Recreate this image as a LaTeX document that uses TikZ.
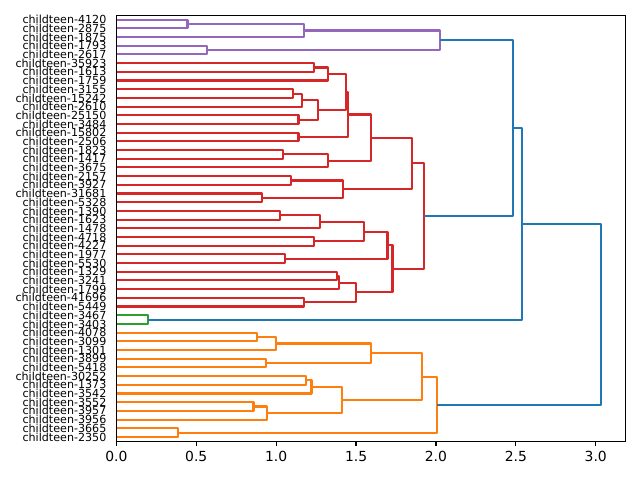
\documentclass[tikz,border=0pt]{standalone}
\usepackage{fontspec}
\setmainfont{DejaVu Sans}
\usepackage{xcolor}
\usepackage{tikz}
\usetikzlibrary{positioning,calc}
\definecolor{treeblue}{RGB}{31,119,180}
\definecolor{treeorange}{RGB}{255,127,14}
\definecolor{treegreen}{RGB}{44,160,44}
\definecolor{treered}{RGB}{214,39,40}
\definecolor{treepurple}{RGB}{148,103,189}

\begin{document}
\begin{tikzpicture}[
    x=0.01in, y=-0.01in,
    link/.style={line width=1.5bp, line join=round},
    spine/.style={draw=black, line width=0.8bp},
    leaflab/.style={anchor=east, inner sep=0pt, xshift=-7bp, font=\fontsize{8bp}{9.6bp}\selectfont},
    ticklab/.style={anchor=north, inner sep=0pt, yshift=-7bp, font=\fontsize{10bp}{12bp}\selectfont}
]
    \useasboundingbox (0,0) rectangle (640,480);

    \begin{scope}[xshift=1.163in, yshift=-0.153in, x=1.597in, y=-0.08688in]
    % Etiquetas de hojas
    \foreach \name [count=\i] in {4120,2875,1875,1793,2617,35923,1613,1759,3155,15242,2610,25150,3484,15802,2506,1823,1417,3675,2157,3927,31681,5328,1390,1623,1478,4718,4227,1977,5530,1329,3241,1799,41696,5449,3467,3403,4078,3099,1301,3899,5418,30252,1373,3542,3552,3957,3956,3665,2350}
        \node[leaflab] (leaf\i) at (0,\i-0.5) {childteen-\name};

    % Grupo morado
    \foreach \h/\ya/\xa/\yb/\xb in {0.445/0.5/0/1.5/0, 1.175/1.0/0.445/2.5/0, 0.568/3.5/0/4.5/0, 2.027/1.75/1.175/4.0/0.568}
        \draw[link, treepurple] (\xa,\ya) -- (\h,\ya) -- (\h,\yb) -- (\xb,\yb);

    % Grupo rojo
    \foreach \h/\ya/\xa/\yb/\xb in {1.238/5.5/0/6.5/0, 1.323/6.0/1.238/7.5/0, 1.106/8.5/0/9.5/0, 1.163/9.0/1.106/10.5/0,
        1.140/11.5/0/12.5/0, 1.263/9.75/1.163/12.0/1.140, 1.438/6.75/1.323/10.875/1.263, 1.140/13.5/0/14.5/0,
        1.447/8.8125/1.438/14.0/1.140, 1.044/15.5/0/16.5/0, 1.326/16.0/1.044/17.5/0, 1.595/11.40625/1.447/16.75/1.326,
        1.094/18.5/0/19.5/0, 0.912/20.5/0/21.5/0, 1.417/19.0/1.094/21.0/0.912, 1.852/14.078/1.595/20.0/1.417,
        1.025/22.5/0/23.5/0, 1.276/23.0/1.025/24.5/0, 1.234/25.5/0/26.5/0, 1.551/23.75/1.276/26.0/1.234,
        1.056/27.5/0/28.5/0, 1.697/24.875/1.551/28.0/1.056, 1.380/29.5/0/30.5/0, 1.392/30.0/1.380/31.5/0,
        1.176/32.5/0/33.5/0, 1.497/30.75/1.392/33.0/1.176, 1.728/26.4375/1.697/31.875/1.497, 1.927/17.039/1.852/29.156/1.728}
        \draw[link, treered] (\xa,\ya) -- (\h,\ya) -- (\h,\yb) -- (\xb,\yb);

    % Grupo verde
    \draw[link, treegreen] (0,34.5) -- (0.200,34.5) -- (0.200,35.5) -- (0,35.5);

    % Grupo naranja
    \foreach \h/\ya/\xa/\yb/\xb in {0.881/36.5/0/37.5/0, 1.000/37.0/0.881/38.5/0, 0.939/39.5/0/40.5/0, 1.591/37.75/1.000/40.0/0.939,
        1.184/41.5/0/42.5/0, 1.221/42.0/1.184/43.5/0, 0.858/44.5/0/45.5/0, 0.944/45.0/0.858/46.5/0,
        1.413/42.75/1.221/45.75/0.944, 1.910/38.875/1.591/44.25/1.413, 0.388/47.5/0/48.5/0, 2.008/41.5625/1.910/48.0/0.388}
        \draw[link, treeorange] (\xa,\ya) -- (\h,\ya) -- (\h,\yb) -- (\xb,\yb);

    % Uniones superiores
    \foreach \h/\ya/\xa/\yb/\xb in {2.482/2.875/2.027/23.098/1.927, 2.541/12.986/2.482/35.0/0.200, 3.035/23.993/2.541/44.781/2.008}
        \draw[link, treeblue] (\xa,\ya) -- (\h,\ya) -- (\h,\yb) -- (\xb,\yb);

    % Ejes
    \draw[spine] (0,0) rectangle (3.187,49);
    \foreach \t in {0.0,0.5,1.0,1.5,2.0,2.5,3.0} {
        \draw[spine] (\t,49) -- ++(0pt,-3.5bp);
        \node[ticklab] (tick\t) at (\t,49) {\t};
    }
    \end{scope}
\end{tikzpicture}
\end{document}
